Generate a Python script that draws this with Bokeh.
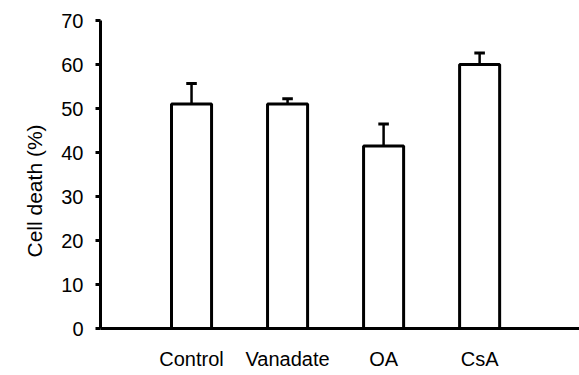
from bokeh.plotting import figure
from bokeh.models import Range1d, FixedTicker, ColumnDataSource, Title
from bokeh.embed import file_html
from bokeh.resources import INLINE

categories = ["Control", "Vanadate", "OA", "CsA"]
cell_death = [51.0, 51.0, 41.5, 60.0]
sem = [4.7, 1.2, 5.0, 2.6]
y_ticks = [0, 10, 20, 30, 40, 50, 60, 70]
y_title = "Cell death (%)"

xs = list(range(1, len(categories) + 1))
tops = [v + e for v, e in zip(cell_death, sem)]
src = ColumnDataSource(dict(x=xs, y=cell_death, top=tops))

FONT = "Liberation Sans"

p = figure(width=579, height=375, output_backend="svg", toolbar_location=None,
           x_range=Range1d(0.052, 5.04), y_range=Range1d(0, 70),
           min_border_left=100, min_border_right=0, min_border_top=20, min_border_bottom=47)
p.outline_line_color = None
p.grid.visible = False
p.background_fill_color = "white"

cap = 0.055
p.segment(x0="x", x1="x", y0="y", y1="top", source=src, line_color="black", line_width=2.5)
p.vbar(x="x", top="y", bottom=0, width=0.417, source=src, fill_color="white",
       line_color="black", line_width=3)
p.segment(x0=[x - cap for x in xs], x1=[x + cap for x in xs], y0=tops, y1=tops,
          line_color="black", line_width=3)

ya = p.yaxis[0]
ya.ticker = FixedTicker(ticks=y_ticks)
ya.minor_tick_line_color = None
ya.major_tick_in = 0
ya.major_tick_out = 5
ya.major_tick_line_width = 3
ya.axis_line_width = 3
ya.axis_line_color = "black"
ya.major_label_text_font = FONT
ya.major_label_text_font_size = "20px"
ya.major_label_text_color = "black"
ya.major_label_standoff = 12

p.add_layout(Title(text=y_title, align="left", offset=71, standoff=26,
                   text_font=FONT, text_font_size="21px", text_font_style="normal",
                   text_color="black"), "left")

xa = p.xaxis[0]
xa.ticker = FixedTicker(ticks=xs)
xa.major_label_overrides = {x: c for x, c in zip(xs, categories)}
xa.minor_tick_line_color = None
xa.major_tick_line_color = None
xa.major_tick_in = 0
xa.major_tick_out = 0
xa.axis_line_width = 3
xa.axis_line_color = "black"
xa.major_label_text_font = FONT
xa.major_label_text_font_size = "20px"
xa.major_label_text_color = "black"
xa.major_label_standoff = 19

open("out.html", "w").write(file_html(p, INLINE))
